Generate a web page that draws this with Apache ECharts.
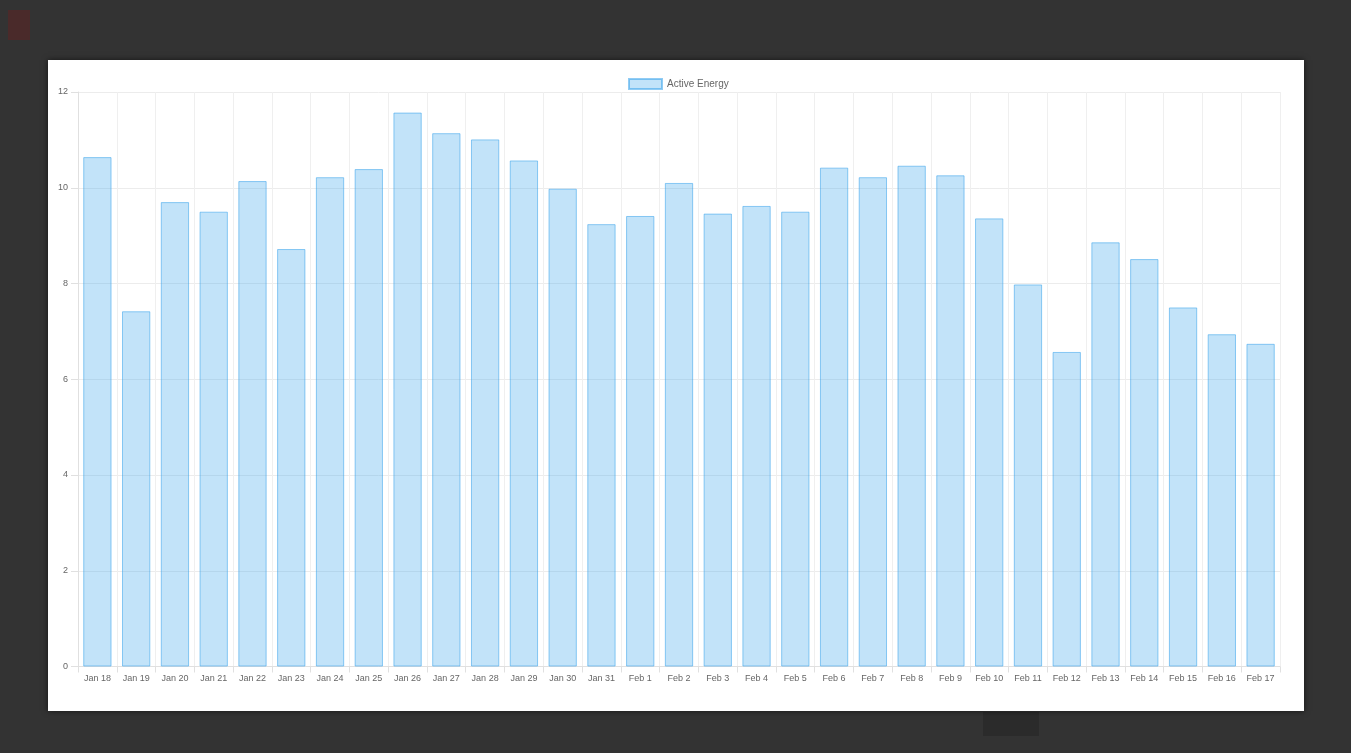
<!DOCTYPE html>
<html>
<head>
<meta charset="utf-8">
<script src="https://cdn.jsdelivr.net/npm/echarts@6/dist/echarts.min.js"></script>
<style>
  html, body { margin: 0; padding: 0; width: 1351px; height: 753px; background: #333333; overflow: hidden; font-family: Arial, "Liberation Sans", sans-serif; }
  #modal { position: absolute; left: 48px; top: 60px; width: 1256px; height: 651px; background: #ffffff; box-shadow: 0 0 6px rgba(0,0,0,0.6); }
  #chart { position: absolute; left: 0; top: 0; width: 1256px; height: 651px; }
  #logo { position: absolute; left: 8px; top: 10px; width: 22px; height: 30px; background: #4a2a2a; }
  #btn { position: absolute; left: 983px; top: 712px; width: 56px; height: 24px; background: #2b2b2b; }
</style>
</head>
<body>
<div id="logo"></div>
<div id="btn"></div>
<div id="modal"><div id="chart"></div></div>
<script>
const categories = ["Jan 18","Jan 19","Jan 20","Jan 21","Jan 22","Jan 23","Jan 24","Jan 25","Jan 26","Jan 27","Jan 28","Jan 29","Jan 30","Jan 31","Feb 1","Feb 2","Feb 3","Feb 4","Feb 5","Feb 6","Feb 7","Feb 8","Feb 9","Feb 10","Feb 11","Feb 12","Feb 13","Feb 14","Feb 15","Feb 16","Feb 17"];
const activeEnergy = [10.64,7.42,9.70,9.50,10.14,8.72,10.22,10.39,11.57,11.14,11.01,10.57,9.98,9.24,9.41,10.10,9.46,9.62,9.50,10.42,10.22,10.46,10.26,9.36,7.98,6.57,8.86,8.51,7.50,6.94,6.74];
const seriesName = "Active Energy";
const yTicks = { min: 0, max: 12, interval: 2 };

const chart = echarts.init(document.getElementById('chart'));
chart.setOption({
  animation: false,
  backgroundColor: '#ffffff',
  legend: {
    data: [{ name: seriesName, icon: 'rect' }],
    left: 575, top: 13,
    itemWidth: 33, itemHeight: 10, itemGap: 4,
    textStyle: { color: '#666666', fontSize: 10, fontFamily: 'Arial' }
  },
  grid: { left: 30, right: 24, top: 32, bottom: 44.5, containLabel: false },
  xAxis: {
    type: 'category',
    data: categories,
    boundaryGap: true,
    axisLine: { show: true, lineStyle: { color: '#e0e0e0' } },
    axisTick: { show: true, length: 6, interval: 0, lineStyle: { color: '#e0e0e0' } },
    axisLabel: { interval: 0, color: '#666666', fontSize: 9, fontFamily: 'Arial', margin: 8 },
    splitLine: { show: true, interval: 0, lineStyle: { color: '#efefef' } }
  },
  yAxis: {
    type: 'value',
    min: yTicks.min, max: yTicks.max, interval: yTicks.interval,
    axisLine: { show: true, lineStyle: { color: '#e0e0e0' } },
    axisTick: { show: true, length: 7, lineStyle: { color: '#e0e0e0' } },
    axisLabel: { color: '#666666', fontSize: 9, fontFamily: 'Arial', margin: 10 },
    splitLine: { show: true, lineStyle: { color: '#ececec' } }
  },
  series: [{
    name: seriesName,
    type: 'bar',
    data: activeEnergy,
    barWidth: '73%',
    itemStyle: { color: 'rgba(54,162,235,0.3)', borderColor: 'rgba(54,162,235,0.55)', borderWidth: 1 }
  }]
});
</script>
</body>
</html>
